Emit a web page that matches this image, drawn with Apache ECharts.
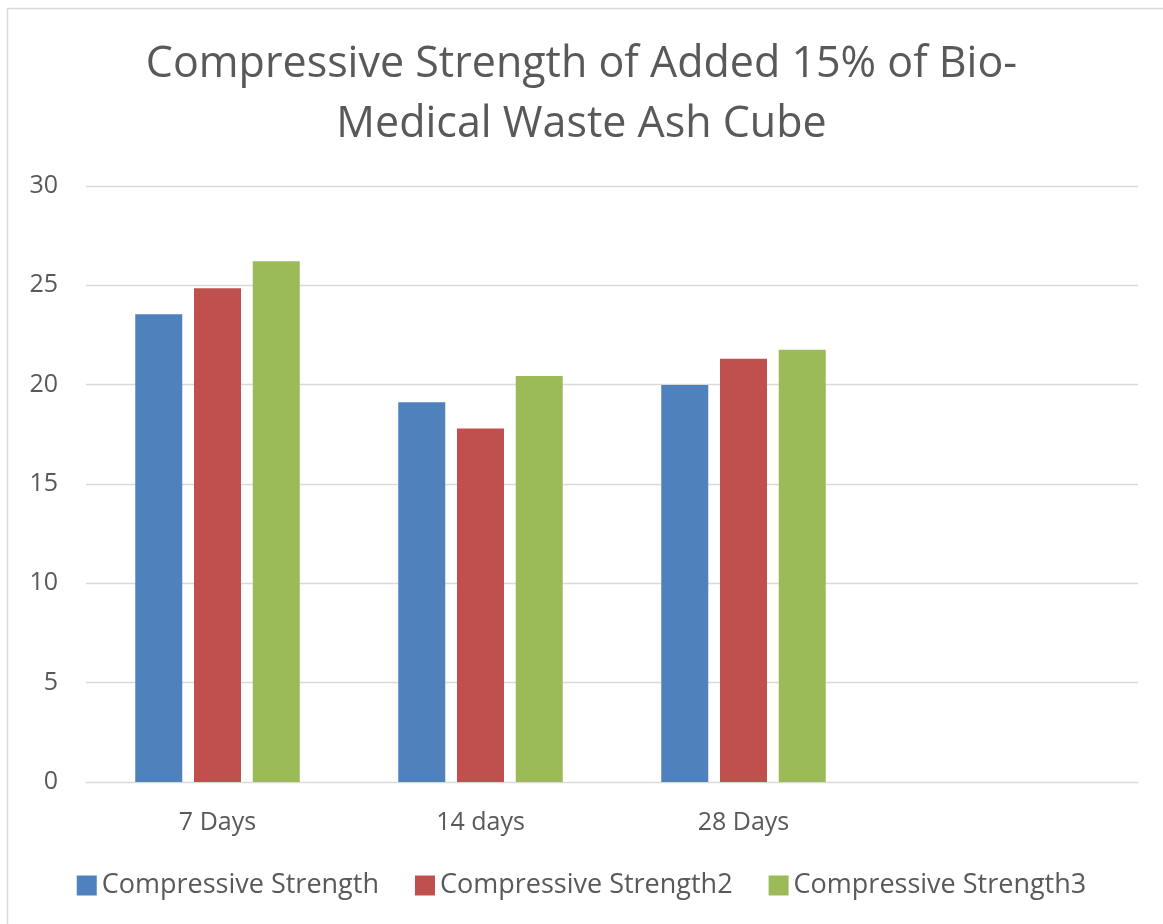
<!DOCTYPE html>
<html>
<head>
<meta charset="utf-8">
<script src="https://cdn.jsdelivr.net/npm/echarts@6/dist/echarts.min.js"></script>
<style>
  html, body { margin: 0; padding: 0; background: #fff; }
  #main { width: 1163px; height: 924px; }
</style>
</head>
<body>
<div id="main"></div>
<script>
// data
var categories = ['7 Days', '14 days', '28 Days', ''];
var seriesNames = ['Compressive Strength', 'Compressive Strength2', 'Compressive Strength3'];
var strength1 = [23.54, 19.11, 19.98, null];
var strength2 = [24.85, 17.79, 21.30, null];
var strength3 = [26.21, 20.43, 21.76, null];
var colors = ['#4f81bd', '#c0504d', '#9bbb59'];

var chart = echarts.init(document.getElementById('main'));
var fontFam = 'Open Sans, Noto Sans, sans-serif';

var option = {
  color: colors,
  animation: false,
  title: {
    text: 'Compressive Strength of Added 15% of Bio-\nMedical Waste Ash Cube',
    left: 'center',
    top: 30,
    textStyle: { fontFamily: fontFam, fontSize: 43, fontWeight: 'normal', color: '#595959', lineHeight: 60 }
  },
  legend: {
    bottom: 20,
    left: 'center',
    itemWidth: 20,
    itemHeight: 20,
    itemGap: 36,
    icon: 'rect',
    textStyle: { fontFamily: fontFam, fontSize: 27, color: '#595959' },
    data: seriesNames
  },
  grid: { left: 86, right: 25, top: 186, bottom: 142 },
  xAxis: {
    type: 'category',
    data: categories,
    axisLine: { lineStyle: { color: '#d9d9d9' } },
    axisTick: { show: false },
    axisLabel: { fontFamily: fontFam, fontSize: 25, color: '#595959', margin: 28 }
  },
  yAxis: {
    type: 'value',
    min: 0,
    max: 30,
    interval: 5,
    axisLine: { show: false },
    axisTick: { show: false },
    splitLine: { lineStyle: { color: '#d9d9d9', width: 1.3 } },
    axisLabel: { fontFamily: fontFam, fontSize: 25, color: '#595959', margin: 28 }
  },
  series: [
    { name: seriesNames[0], type: 'bar', data: strength1, barWidth: 47, barGap: '25%' },
    { name: seriesNames[1], type: 'bar', data: strength2, barWidth: 47, barGap: '25%' },
    { name: seriesNames[2], type: 'bar', data: strength3, barWidth: 47, barGap: '25%' }
  ],
  graphic: [{
    type: 'rect',
    shape: { x: 7.5, y: 8.5, width: 1160, height: 920 },
    style: { fill: 'none', stroke: '#d9d9d9', lineWidth: 1.5 },
    silent: true
  }]
};
chart.setOption(option);
</script>
</body>
</html>
